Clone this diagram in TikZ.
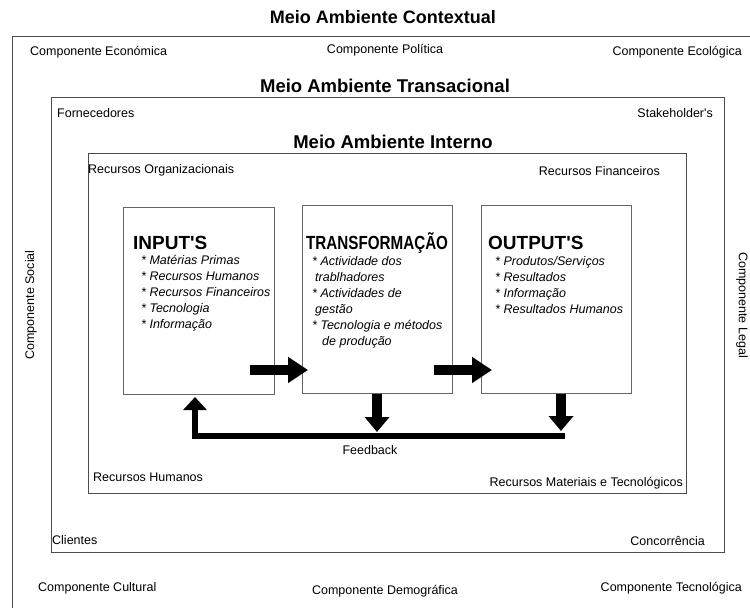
\documentclass[tikz,border=0pt]{standalone}
\usepackage{fontspec}
\setmainfont{Liberation Sans}
\usetikzlibrary{arrows.meta}

\begin{document}
\begin{tikzpicture}[x=1bp,y=-1bp,
  frame/.style={draw=black!70, line width=1.4bp, inner sep=0pt, anchor=north west},
  stage/.style={draw=black!60, line width=1.2bp, fill=white, inner sep=0pt, anchor=north west},
  lbl/.style={font=\fontsize{12.5bp}{14bp}\selectfont, inner sep=0pt},
  ttl/.style={font=\fontsize{18.5bp}{22bp}\selectfont\bfseries, inner sep=0pt, anchor=base},
  hd/.style={font=\fontsize{19bp}{22bp}\selectfont\bfseries, inner sep=0pt, anchor=base west},
  item/.style={font=\fontsize{12.5bp}{16bp}\selectfont\itshape, inner sep=0pt, anchor=base west},
  flow/.style={line width=10bp, -{Triangle[length=20bp,width=25bp]}},
  drop/.style={line width=10bp, -{Triangle[length=15bp,width=24bp]}},
  loopback/.style={line width=6bp, line join=miter, -{Triangle[length=13bp,width=23bp]}},
]
\useasboundingbox (0,0) rectangle (750,608);
\clip (0,0) rectangle (750,608);

% nested environment frames
\node[frame, minimum width=780bp, minimum height=620bp] (ctx) at (12,36) {};
\node[frame, minimum width=673bp, minimum height=455bp] (trn) at (51,97) {};
\node[frame, minimum width=598bp, minimum height=340bp] (int) at (88,153) {};

% frame titles
\node[ttl, font=\fontsize{18bp}{22bp}\selectfont\bfseries] (tctx) at (383,24) {Meio Ambiente Contextual};
\node[ttl] (ttrn) at (385,93) {Meio Ambiente Transacional};
\node[ttl] (tint) at (393,149) {Meio Ambiente Interno};

% contextual components
\node[lbl, anchor=base west] (econ) at (30,56) {Componente Económica};
\node[lbl, anchor=base] (poli) at (385,54) {Componente Política};
\node[lbl, anchor=base east] (ecol) at (742,56) {Componente Ecológica};
\node[lbl, anchor=base west] (cult) at (38,591) {Componente Cultural};
\node[lbl, anchor=base] (demo) at (385,594) {Componente Demográfica};
\node[lbl, anchor=base east] (tecn) at (742,591) {Componente Tecnológica};
\node[lbl, rotate=90] (soci) at (31,305) {Componente Social};
\node[lbl, rotate=-90] (lega) at (742,305) {Componente Legal};

% transactional actors
\node[lbl, anchor=base west] (forn) at (57,118) {Fornecedores};
\node[lbl, anchor=base east] (stak) at (713,118) {Stakeholder\textquotesingle s};
\node[lbl, anchor=base west] (clie) at (52,544) {Clientes};
\node[lbl, anchor=base east] (conc) at (705,545) {Concorrência};

% internal resources
\node[lbl, anchor=base west] (rorg) at (88,174) {Recursos Organizacionais};
\node[lbl, anchor=base east] (rfin) at (660,176) {Recursos Financeiros};
\node[lbl, anchor=base west] (rhum) at (93,481) {Recursos Humanos};
\node[lbl, anchor=base east] (rmat) at (683,486) {Recursos Materiais e Tecnológicos};

% process stages
\node[stage, minimum width=151bp, minimum height=187bp] (inp) at (123,207) {};
\node[stage, minimum width=150bp, minimum height=188bp] (trf) at (302,205) {};
\node[stage, minimum width=150bp, minimum height=188bp] (out) at (481,205) {};

\node[hd] (hinp) at (133,249) {INPUT\textquotesingle S};
\node[hd] (htrf) at (306,249) {\scalebox{0.8}[1]{TRANSFORMAÇÃO}};
\node[hd] (hout) at (488,249) {OUTPUT\textquotesingle S};

\foreach \t [count=\i] in {* Matérias Primas, * Recursos Humanos, * Recursos Financeiros, * Tecnologia, * Informação}
  \node[item] (inp-\i) at (141,248+16*\i) {\t};

\node[item] (trf-1) at (312,265) {* Actividade dos};
\node[item] (trf-2) at (315,281) {trablhadores};
\node[item] (trf-3) at (312,297) {* Actividades de};
\node[item] (trf-4) at (315,313) {gestão};
\node[item] (trf-5) at (312,329) {* Tecnologia e métodos};
\node[item] (trf-6) at (322,345) {de produção};

\foreach \t [count=\i] in {* Produtos/Serviços, * Resultados, * Informação, * Resultados Humanos}
  \node[item] (out-\i) at (495,249+16*\i) {\t};

% flow between stages
\coordinate (f1a) at (250,370);
\coordinate (f1b) at (308,370);
\coordinate (f2a) at (434,370);
\coordinate (f2b) at (492,370);
\draw[flow] (f1a) -- (f1b);
\draw[flow] (f2a) -- (f2b);

% feedback loop
\coordinate (dm) at (377,432);
\coordinate (dr) at (561,431);
\coordinate (fbR) at (565,435.5);
\coordinate (fbL) at (195,435.5);
\coordinate (fbU) at (195,397);
\draw[drop] (trf.south -| dm) -- (dm);
\draw[drop] (out.south -| dr) -- (dr);
\draw[loopback] (fbR) -- (fbL) -- (fbU);
\node[lbl, anchor=base] (fb) at (370,454) {Feedback};
\end{tikzpicture}
\end{document}
